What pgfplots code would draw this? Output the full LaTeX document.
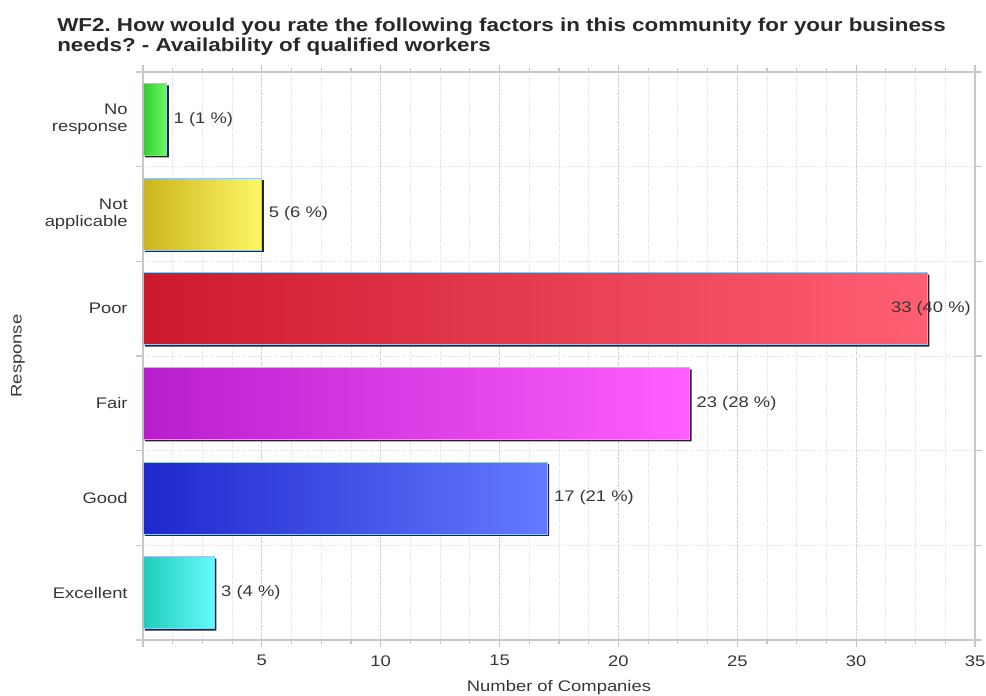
\documentclass[border=0pt]{standalone}
\usepackage{pgfplots}
\pgfplotsset{compat=1.18}
\usepackage{fontspec}
\setmainfont[FakeStretch=1.2]{Liberation Sans}
\frenchspacing

\definecolor{boxgray}{RGB}{200,200,200}
\definecolor{majgrid}{RGB}{195,195,195}
\definecolor{mingrid}{RGB}{225,225,225}
\definecolor{labelcol}{RGB}{55,55,55}
\definecolor{titlecol}{RGB}{40,40,40}
\definecolor{barline}{RGB}{150,200,240}

\definecolor{nrL}{RGB}{50,205,50}   \definecolor{nrR}{RGB}{110,248,100}
\definecolor{naL}{RGB}{205,180,30}  \definecolor{naR}{RGB}{252,248,100}
\definecolor{poL}{RGB}{205,25,45}   \definecolor{poR}{RGB}{255,95,115}
\definecolor{faL}{RGB}{185,30,205}  \definecolor{faR}{RGB}{255,95,255}
\definecolor{goL}{RGB}{30,40,205}   \definecolor{goR}{RGB}{100,122,255}
\definecolor{exL}{RGB}{30,205,185}  \definecolor{exR}{RGB}{100,250,250}

\begin{document}
\begin{tikzpicture}[font=\fontsize{11.5}{12.5}\selectfont]
\begin{axis}[
  scale only axis, width=624pt, height=426pt,
  at={(0,0)}, anchor=south west,
  xbar, bar width=0.76, bar shift=0pt,
  xmin=0, xmax=35, ymin=-0.5, ymax=5.5,
  xtick={0,5,10,15,20,25,30,35},
  xticklabels={,5,10,15,20,25,30,35},
  minor x tick num=3,
  ytick={-0.5,0.5,1.5,2.5,3.5,4.5,5.5},
  yticklabels={},
  extra y ticks={0,1,2,3,4,5},
  extra y tick labels={Excellent,Good,Fair,Poor,{Not\\applicable},{No\\response}},
  extra y tick style={major tick length=0pt, grid=none,
     tick label style={align=right, xshift=-8pt}},
  tick align=outside,
  major tick length=5pt, minor tick length=3pt,
  tick style={boxgray, line width=0.8pt},
  axis line style={draw=boxgray, line width=0.8pt},
  xmajorgrids, xminorgrids, ymajorgrids,
  major grid style={densely dotted, majgrid, line width=0.6pt},
  minor grid style={densely dotted, mingrid, line width=0.6pt},
  y grid style={densely dotted, mingrid, line width=0.6pt},
  tick label style={text=labelcol},
  xticklabel style={yshift=-3pt},
  xlabel={Number of Companies},
  ylabel={Response},
  every axis x label/.style={at={(axis description cs:0.5,-0.0845)}, anchor=center, text=labelcol},
  every axis y label/.style={at={(axis description cs:-0.1502,0.5)}, rotate=90, anchor=center, text=labelcol},
  clip=false,
]
% shadows
\addplot[xbar, bar shift=0pt, fill=black!85, draw=none,
  transform canvas={xshift=1.5pt, yshift=-1.5pt}]
  coordinates {(3,0) (17,1) (23,2) (33,3) (5,4) (1,5)};
% bars
\addplot[xbar, bar shift=0pt, left color=exL, right color=exR, draw=barline, line width=0.6pt] coordinates {(3,0)};
\addplot[xbar, bar shift=0pt, left color=goL, right color=goR, draw=barline, line width=0.6pt] coordinates {(17,1)};
\addplot[xbar, bar shift=0pt, left color=faL, right color=faR, draw=barline, line width=0.6pt] coordinates {(23,2)};
\addplot[xbar, bar shift=0pt, left color=poL, right color=poR, draw=barline, line width=0.6pt] coordinates {(33,3)};
\addplot[xbar, bar shift=0pt, left color=naL, right color=naR, draw=barline, line width=0.6pt] coordinates {(5,4)};
\addplot[xbar, bar shift=0pt, left color=nrL, right color=nrR, draw=barline, line width=0.6pt] coordinates {(1,5)};
% value labels
\addplot[xbar, bar shift=0pt, draw=none, fill=none,
  point meta=explicit symbolic, nodes near coords,
  every node near coord/.style={anchor=west, xshift=4pt, text=labelcol, inner sep=1pt}]
  coordinates {(3,0) [3 (4 \%)] (17,1) [17 (21 \%)] (23,2) [23 (28 \%)] (5,4) [5 (6 \%)] (1,5) [1 (1 \%)]};
\addplot[xbar, bar shift=0pt, draw=none, fill=none,
  point meta=explicit symbolic, nodes near coords,
  every node near coord/.style={anchor=west, xshift=-28.5pt, text=labelcol, inner sep=1pt}]
  coordinates {(33,3) [33 (40 \%)]};
\end{axis}
\node[anchor=base west, inner sep=0, text=titlecol, font=\bfseries\fontsize{14}{16}\selectfont] at (-64.5pt,456pt)
  {WF2. How would you rate the following factors in this community for your business};
\node[anchor=base west, inner sep=0, text=titlecol, font=\bfseries\fontsize{14}{16}\selectfont] at (-64.5pt,441pt)
  {needs? - Availability of qualified workers};
\pgfresetboundingbox
\path[use as bounding box] (-107.25pt,-42pt) rectangle (632.25pt,480pt);
\end{tikzpicture}
\end{document}
